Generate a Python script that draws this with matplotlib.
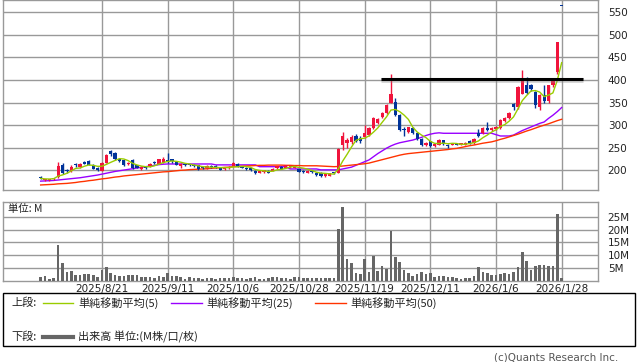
import matplotlib
matplotlib.use("Agg")
import matplotlib.pyplot as plt
from matplotlib.patches import Rectangle
from matplotlib.lines import Line2D
import numpy as np
import pandas as pd

# ローソク足データ (日足, 2025/7/31 〜 2026/1/28)
opens = [186, 178, 178, 181, 186, 212, 200, 199, 213, 208,
         219, 221, 212, 206, 199, 217, 242, 238, 226, 222,
         214, 222, 211, 203, 207, 209, 218, 215, 217, 223,
         224, 218, 209, 215, 214, 212, 211, 208, 204, 210,
         210, 207, 202, 204, 210, 215, 208, 206, 204, 199,
         194, 196, 199, 199, 204, 208, 205, 207, 205, 202,
         199, 195, 198, 195, 195, 187, 188, 195, 195, 256,
         260, 262, 277, 272, 273, 278, 294, 304, 318, 326,
         350, 352, 322, 291, 285, 294, 282, 269, 255, 264,
         253, 256, 267, 256, 257, 259, 257, 256, 265, 260,
         283, 282, 294, 290, 291, 293, 310, 315, 347, 341,
         370, 389, 388, 374, 341, 367, 353, 389, 418, 563]
highs = [188, 181, 181, 184, 218, 217, 203, 211, 216, 217,
         221, 222, 213, 207, 218, 235, 244, 240, 228, 223,
         218, 224, 212, 209, 209, 217, 220, 225, 229, 238,
         226, 219, 216, 216, 214, 213, 211, 208, 211, 212,
         211, 208, 206, 209, 218, 216, 209, 207, 205, 200,
         199, 201, 200, 204, 210, 209, 212, 212, 211, 203,
         200, 200, 199, 196, 196, 194, 195, 197, 249, 284,
         272, 278, 281, 276, 300, 296, 318, 316, 330, 346,
         413, 360, 324, 295, 297, 296, 284, 271, 263, 266,
         260, 270, 268, 258, 260, 260, 260, 263, 267, 272,
         291, 296, 307, 296, 298, 313, 318, 330, 350, 386,
         423, 406, 392, 376, 368, 389, 390, 405, 485, 563]
lows = [180, 177, 177, 179, 184, 192, 195, 197, 208, 206,
        213, 211, 202, 199, 198, 216, 232, 222, 218, 210,
        212, 203, 205, 201, 203, 207, 214, 213, 216, 216,
        217, 211, 206, 210, 209, 207, 200, 202, 202, 206,
        206, 200, 201, 203, 209, 207, 204, 201, 199, 191,
        193, 195, 194, 198, 203, 202, 204, 206, 204, 196,
        195, 194, 194, 188, 186, 186, 187, 191, 194, 246,
        250, 258, 262, 261, 271, 276, 292, 302, 316, 324,
        348, 320, 287, 276, 283, 280, 267, 253, 253, 252,
        251, 255, 257, 250, 255, 255, 255, 255, 259, 258,
        273, 280, 288, 288, 289, 291, 308, 313, 333, 336,
        368, 368, 376, 337, 333, 350, 348, 385, 413, 563]
closes = [182, 180, 180, 184, 210, 195, 198, 207, 211, 215,
          214, 212, 203, 200, 216, 234, 235, 224, 220, 212,
          216, 205, 206, 208, 205, 215, 216, 224, 225, 218,
          220, 212, 215, 212, 211, 209, 203, 205, 209, 208,
          207, 201, 205, 208, 217, 208, 205, 202, 200, 194,
          198, 200, 195, 203, 209, 203, 211, 210, 210, 197,
          196, 199, 196, 190, 188, 193, 194, 193, 247, 276,
          268, 274, 266, 265, 283, 293, 315, 313, 327, 344,
          368, 322, 289, 289, 295, 282, 269, 255, 261, 254,
          259, 268, 259, 254, 259, 257, 258, 261, 261, 270,
          275, 294, 290, 294, 296, 311, 315, 328, 341, 384,
          403, 372, 379, 345, 367, 353, 389, 403, 484, 563]

# 出来高 (M株)
volume = [1.4, 1.8, 0.8, 1.2, 13.9, 7.0, 3.5, 3.8, 2.3, 2.2,
          2.6, 2.6, 2.2, 1.6, 4.2, 5.3, 2.9, 2.2, 1.8, 1.8,
          2.1, 2.2, 2.2, 1.4, 1.4, 1.4, 1.2, 1.8, 1.6, 3.0,
          1.8, 1.8, 1.4, 0.7, 1.3, 1.0, 0.9, 0.7, 1.0, 1.0,
          0.8, 1.0, 1.0, 1.0, 1.4, 1.2, 1.0, 0.8, 1.0, 1.4,
          0.8, 0.8, 0.9, 1.4, 1.3, 1.0, 1.0, 0.8, 1.4, 1.4,
          1.0, 1.0, 1.0, 1.0, 1.0, 1.0, 1.0, 1.0, 20.2, 28.8,
          8.5, 7.0, 3.1, 2.6, 8.5, 3.4, 9.8, 3.9, 5.7, 4.7,
          19.4, 9.4, 7.3, 4.2, 3.0, 1.8, 2.6, 3.4, 2.6, 2.9,
          1.6, 1.8, 1.8, 1.4, 1.4, 1.2, 0.8, 1.0, 1.0, 1.8,
          5.3, 3.4, 3.0, 2.2, 2.2, 2.7, 3.0, 2.6, 3.4, 5.3,
          11.2, 7.7, 4.2, 5.7, 6.1, 6.1, 5.9, 5.7, 26.0, 0.9]

# 単純移動平均(25), (50) はチャートから読み取り
ma25 = [176, 176.5, 177, 177.5, 178.5, 179.5, 180.5, 181.5, 182.5, 183.5,
        185, 186.5, 188, 189.5, 191.5, 193.5, 195.5, 197.5, 199, 200.5,
        202, 203.5, 205, 206.5, 208, 209.5, 211, 212.5, 213.5, 214,
        214, 214, 214, 214, 214, 214, 214, 214, 214, 214,
        212, 212, 212, 212, 212, 212, 212, 212, 212, 212,
        208, 208, 208, 208, 208, 208, 208, 203, 203, 203,
        203, 203, 203, 203, 201, 201, 201, 201, 201, 203,
        205, 207, 211, 215, 219, 223, 230, 237, 243, 249,
        254, 258, 261, 263, 265, 267, 270, 273, 277, 280,
        282, 283, 282, 282, 282, 282, 282, 282, 282, 282,
        282, 282, 282, 282, 279, 276, 276, 276, 278, 283,
        288, 292, 296, 300, 304, 307, 315, 322, 330, 339]
ma50 = [167.5, 168, 168.5, 169, 170, 170.5, 171, 172, 173, 174.5,
        175.5, 177, 178, 179.5, 181, 182, 183.5, 185, 186, 187.5,
        188.5, 189.5, 190.5, 191.5, 192.5, 193.5, 194.5, 195.5, 196.5, 197,
        198, 199, 200, 200.5, 201.5, 202, 202.5, 203, 203.5, 204.5,
        205, 205.5, 206.5, 207, 208, 208.5, 209, 209.5, 210, 210.5,
        211, 211, 211.5, 211.5, 211.5, 211.5, 211, 211, 210.5, 210.5,
        210, 210, 210, 210, 209.5, 209, 208.5, 208, 208.5, 209.5,
        210.5, 211.5, 212.5, 213.5, 214.5, 216, 218.5, 221, 223.5, 226,
        228.5, 231, 233.5, 235.5, 237, 238, 239, 240, 241, 242,
        243, 244, 245, 246, 247.5, 248.5, 250.5, 252.5, 254.5, 256,
        258, 260, 261.5, 263, 265.5, 268.5, 271, 274, 277, 280,
        283.5, 287, 290, 293.5, 297, 300, 303, 306.5, 310, 313]

tick_pos = [14, 29, 44, 59, 74, 89, 104, 119]
tick_labels = ["2025/8/21", "2025/9/11", "2025/10/6", "2025/10/28",
               "2025/11/19", "2025/12/11", "2026/1/6", "2026/1/28"]
price_ticks = [200, 250, 300, 350, 400, 450, 500, 550]
vol_ticks = [5, 10, 15, 20, 25]
vol_labels = ["5M", "10M", "15M", "20M", "25M"]

# 水平線 (抵抗線)
resist_level = 402
resist_start, resist_end = 77.8, 123.9

RED = "#f0143c"
BLUE = "#003399"
C5, C25, C50 = "#99cc00", "#9900ff", "#ff3300"
GRID = "#999999"
JP = ["Noto Sans CJK JP", "DejaVu Sans"]

W, H = 638, 362
fig = plt.figure(figsize=(W / 100, H / 100), dpi=100)


def box(x0, y0, x1, y1):
    return [x0 / W, 1 - y1 / H, (x1 - x0) / W, (y1 - y0) / H]


ax = fig.add_axes(box(3, 0, 598, 190.3))
axv = fig.add_axes(box(3, 201.7, 598, 280.7))

x = np.arange(len(closes))
o = np.array(opens, float)
c = np.array(closes, float)
up = c > o
colors = np.where(up, RED, BLUE)

# ヒゲ
ax.vlines(x, lows, highs, colors=colors, lw=1, zorder=3)
# 実体 (同値は細い横線)
bottom = np.minimum(o, c)
height = np.maximum(np.abs(c - o), 2.5)
ax.bar(x, height, bottom=bottom, width=0.75, color=colors, lw=0, zorder=4)

ma5 = pd.Series(closes).rolling(5, min_periods=1).mean()
ax.plot(x, ma5, color=C5, lw=1, zorder=5)
ax.plot(x, ma25, color=C25, lw=1, zorder=2)
ax.plot(x, ma50, color=C50, lw=1, zorder=2)

ax.plot([resist_start, resist_end], [resist_level - 2.5] * 2, color="#888888",
        lw=3.5, alpha=0.35, zorder=6, solid_capstyle="butt")
ax.plot([resist_start, resist_end], [resist_level] * 2, color="black",
        lw=2.2, zorder=7, solid_capstyle="butt")

ax.set_xlim(-8.6, 127.3)
ax.set_ylim(155.7, 577.2)
ax.set_yticks(price_ticks)
ax.set_xticks(tick_pos)
ax.set_xticklabels([])
ax.yaxis.tick_right()
ax.tick_params(axis="both", length=0, labelsize=7.5, pad=7, colors="#222222")
ax.grid(True, color=GRID, lw=1, zorder=0)

axv.bar(x, volume, width=0.6, color="#666666", lw=0, zorder=3)
axv.set_xlim(-8.6, 127.3)
axv.set_ylim(0, 30.86)
axv.set_yticks(vol_ticks)
axv.set_yticklabels(vol_labels)
axv.set_xticks(tick_pos)
axv.set_xticklabels(tick_labels)
axv.yaxis.tick_right()
axv.tick_params(axis="y", length=0, labelsize=7.5, pad=7, colors="#222222")
axv.tick_params(axis="x", length=0, labelsize=7.5, pad=2.5, colors="#222222")
axv.grid(True, color=GRID, lw=1, zorder=0)

for a in (ax, axv):
    for s in a.spines.values():
        s.set_color(GRID)
        s.set_linewidth(1)

fig.text(8 / W, 1 - 209 / H, "単位: M", fontsize=7.5, family=JP,
         va="center", ha="left", color="#222222")

# 凡例枠
fig.add_artist(Rectangle((3 / W, 1 - 346 / H), 632 / W, 53 / H,
                         transform=fig.transFigure, fill=False,
                         ec="black", lw=1))


def leg_line(x0, x1, y, color, lw):
    fig.add_artist(Line2D([x0 / W, x1 / W], [1 - y / H] * 2, color=color,
                          lw=lw, transform=fig.transFigure))


def leg_text(x0, y, s):
    fig.text(x0 / W, 1 - y / H, s, fontsize=8, family=JP, va="center",
             ha="left", color="#222222")


leg_text(11, 303, "上段:")
leg_line(43, 73, 303, C5, 1)
leg_text(78, 303, "単純移動平均(5)")
leg_line(171, 202, 303, C25, 1)
leg_text(206, 303, "単純移動平均(25)")
leg_line(315, 346, 303, C50, 1)
leg_text(350, 303, "単純移動平均(50)")
leg_text(11, 336.5, "下段:")
leg_line(43, 73, 336.5, "#666666", 3)
leg_text(78, 336.5, "出来高 単位:(M株/口/枚)")

fig.text(618 / W, 1 - 357 / H, "(c)Quants Research Inc.", fontsize=7.5,
         ha="right", va="center", color="#555555")

fig.savefig("out.png", dpi=100)
